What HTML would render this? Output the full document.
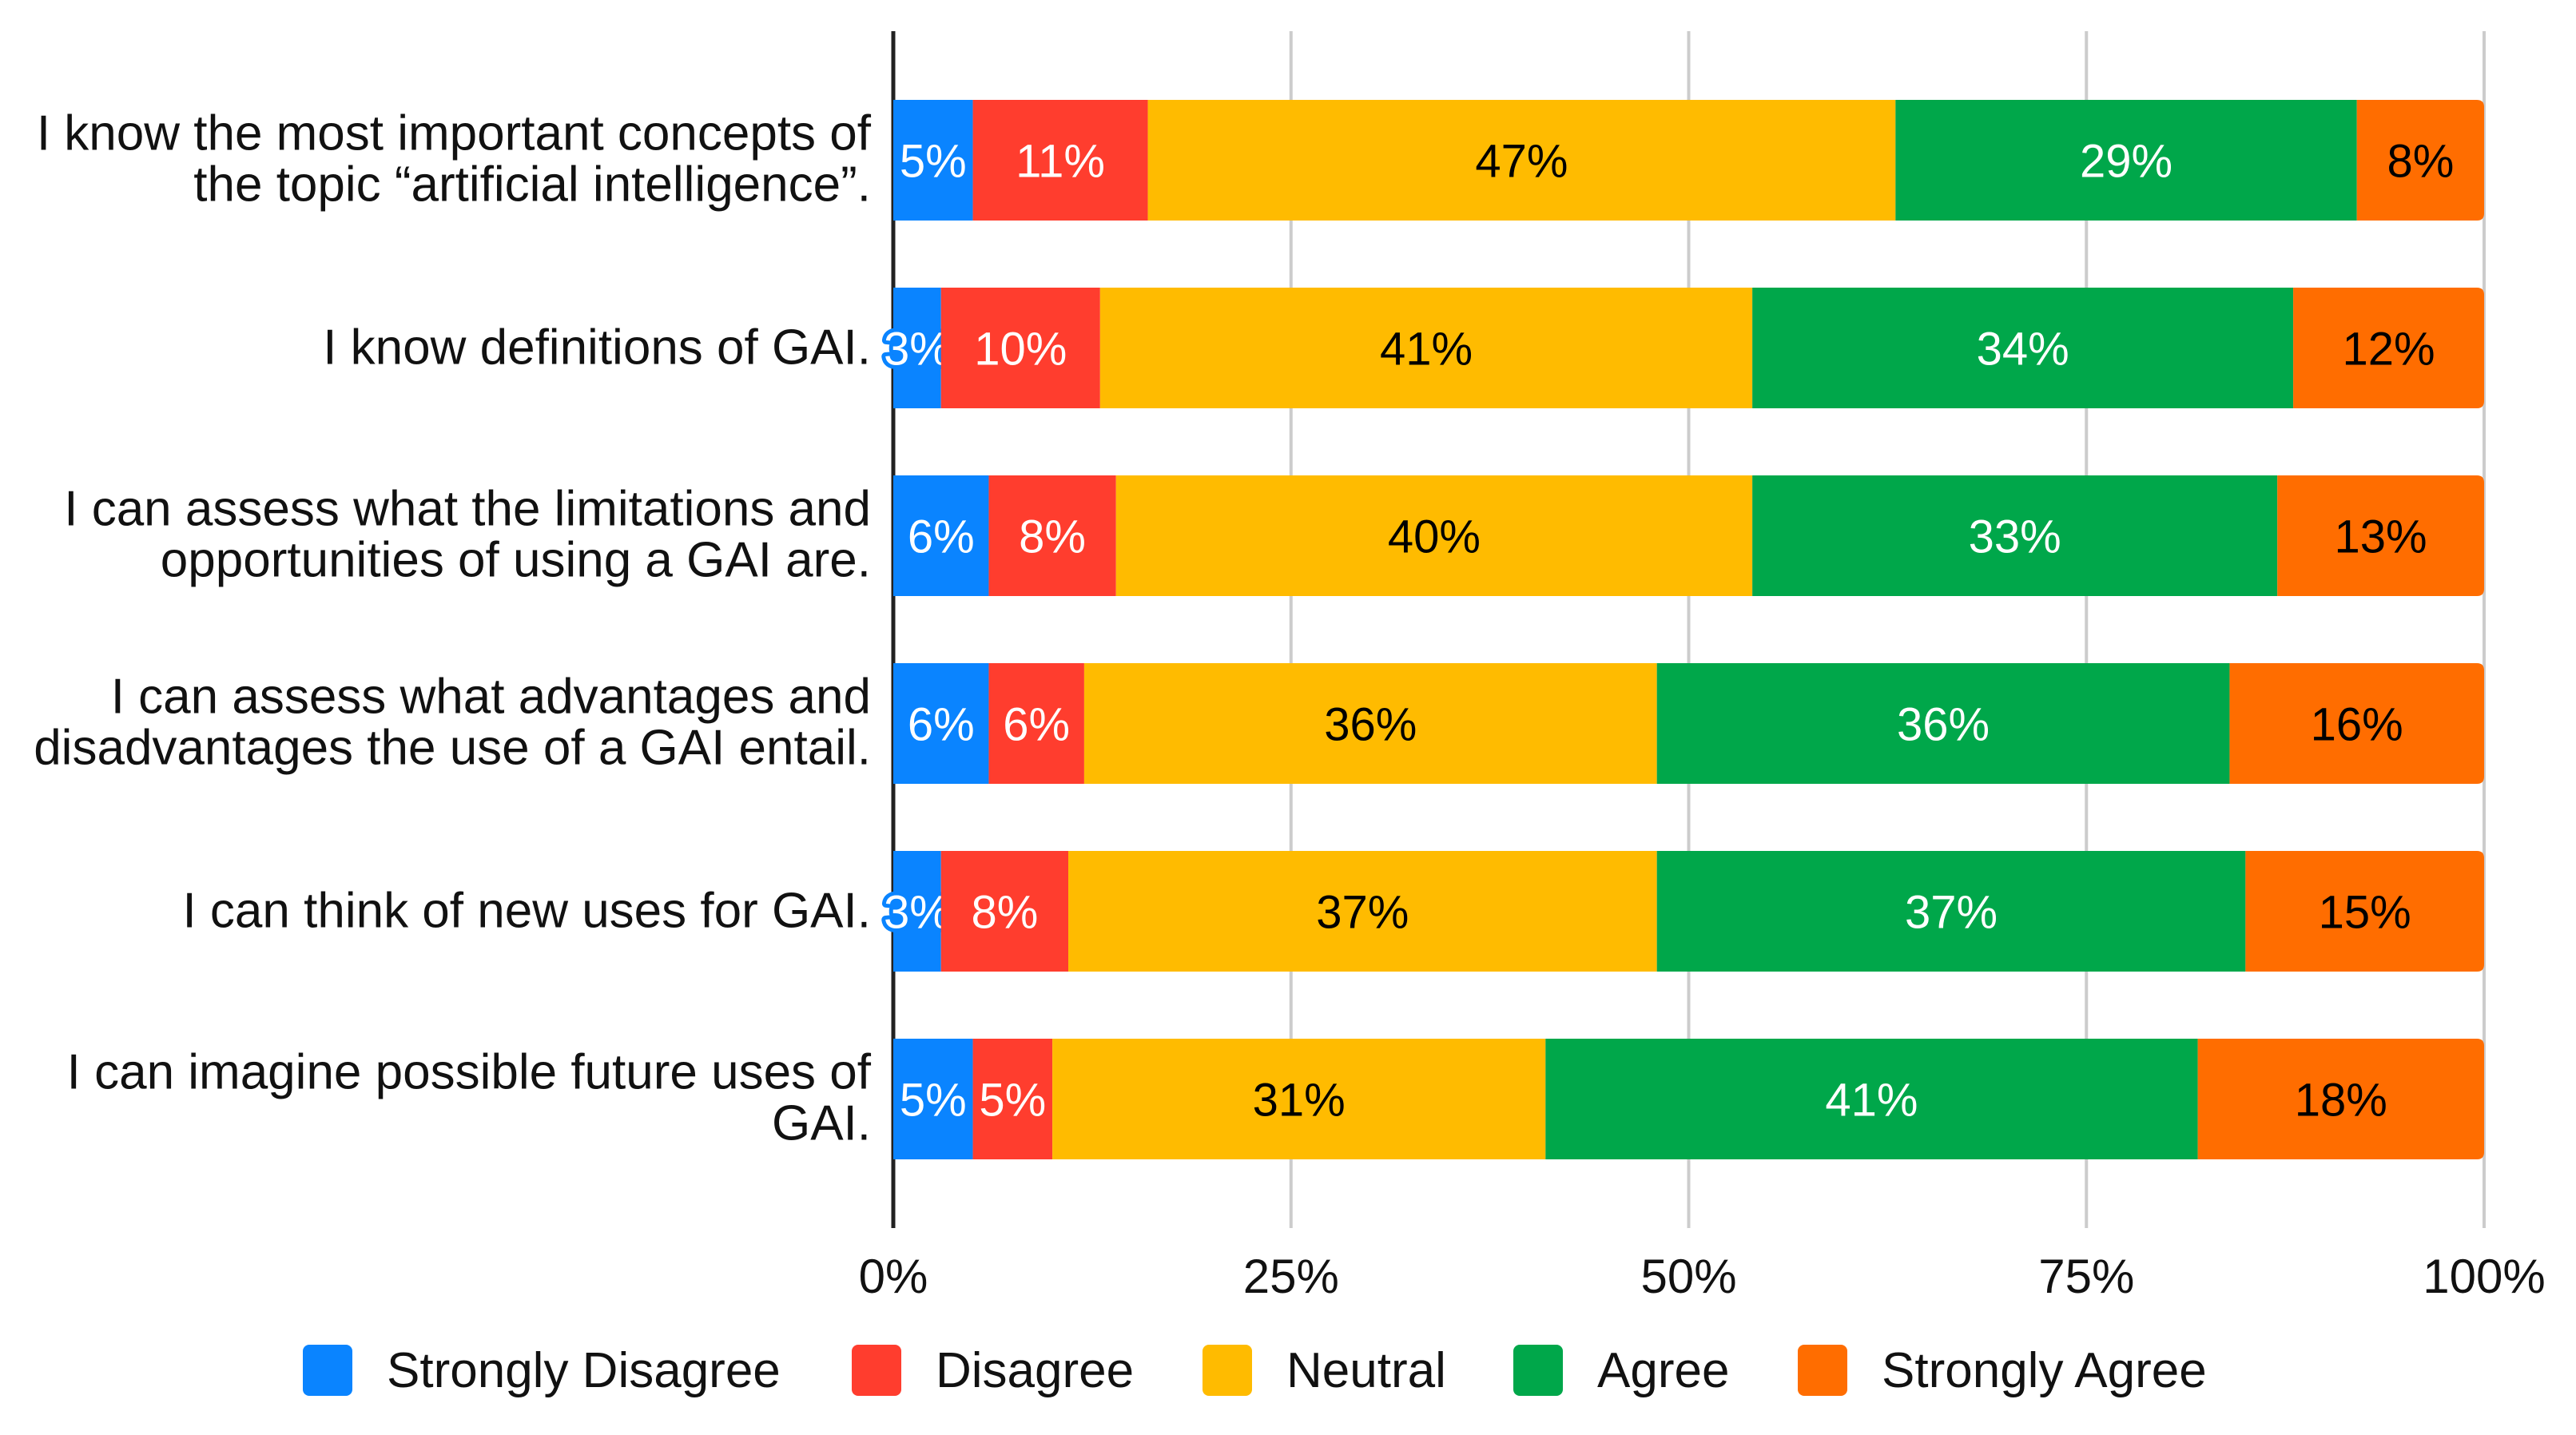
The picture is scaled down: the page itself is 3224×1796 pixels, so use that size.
<!DOCTYPE html>
<html><head><meta charset="utf-8"><style>
html,body{margin:0;padding:0;background:#fff}
svg{display:block}
text{font-family:"Liberation Sans",Arial,sans-serif}
</style></head><body>
<svg id="chart" width="3224" height="1796" viewBox="0 0 3224 1796" xmlns="http://www.w3.org/2000/svg">
<g id="grid"></g>
<g id="bars"></g>
<g id="cats"></g>
<g id="ticks"></g>
<g id="legend"></g>
</svg>
<script>
const categories = [
  ["I know the most important concepts of", "the topic \u201cartificial intelligence\u201d."],
  ["I know definitions of GAI."],
  ["I can assess what the limitations and", "opportunities of using a GAI are."],
  ["I can assess what advantages and", "disadvantages the use of a GAI entail."],
  ["I can think of new uses for GAI."],
  ["I can imagine possible future uses of", "GAI."]
];
const seriesNames = ["Strongly Disagree","Disagree","Neutral","Agree","Strongly Agree"];
const stronglyDisagree = [5,3,6,6,3,5];
const disagree = [11,10,8,6,8,5];
const neutral = [47,41,40,36,37,31];
const agree = [29,34,33,36,37,41];
const stronglyAgree = [8,12,13,16,15,18];
const tickValues = [0,25,50,75,100];
const tickLabels = ["0%","25%","50%","75%","100%"];

const series = [stronglyDisagree, disagree, neutral, agree, stronglyAgree];
const colors = ["#0a84ff","#ff3d2e","#ffbb00","#00a74a","#ff6d00"];
const textColors = ["#fff","#fff","#000","#fff","#000"];
const NS = "http://www.w3.org/2000/svg";
const X0 = 1118, X1 = 3109;
const x = v => X0 + (X1 - X0) * v / 100;
const BAR_TOP = 125, PITCH = 235, BAR_H = 151;
const yTop = i => BAR_TOP + i * PITCH;
function mk(tag, attrs, parent){const e=document.createElementNS(NS,tag);for(const k in attrs)e.setAttribute(k,attrs[k]);parent.appendChild(e);return e;}

const grid = document.getElementById('grid');
tickValues.forEach((t,i)=>{
  if(i===0) return;
  const l = mk('line',{x1:x(t),x2:x(t),y1:39,y2:1537,stroke:'#cccccc','stroke-width':4},grid);
  
  
});

const bars = document.getElementById('bars');
categories.forEach((c,i)=>{
  let acc = 0;
  const total = series.reduce((s,a)=>s+a[i],0);
  series.forEach((arr,s)=>{
    const v = arr[i];
    const xa = x(acc*100/total), xb = x((acc+v)*100/total);
    let r;
    if (s === series.length-1) {
      const rad = 9, y0 = yTop(i), y1 = y0 + BAR_H;
      r = mk('path',{d:`M${xa},${y0} H${xb-rad} Q${xb},${y0} ${xb},${y0+rad} V${y1-rad} Q${xb},${y1} ${xb-rad},${y1} H${xa} Z`,fill:colors[s]},bars);
    } else {
      r = mk('rect',{x:xa,y:yTop(i),width:xb-xa,height:BAR_H,fill:colors[s]},bars);
    }
    
    
    const t = mk('text',{x:(xa+xb)/2,y:yTop(i)+BAR_H/2+21,'text-anchor':'middle','font-size':58,fill:textColors[s]},bars);
    if (v <= 3) { t.setAttribute('stroke',colors[s]); t.setAttribute('stroke-width',10); t.setAttribute('paint-order','stroke'); t.setAttribute('stroke-linejoin','round'); }
    t.textContent = v + '%';
    
    
    acc += v;
  });
});

const ax = mk('line',{x1:X0,x2:X0,y1:39,y2:1537,stroke:'#222','stroke-width':5},grid);



const cats = document.getElementById('cats');
categories.forEach((lines,i)=>{
  const cy = yTop(i) + BAR_H/2;
  lines.forEach((ln,j)=>{
    const off = lines.length===1 ? 0 : (j===0 ? -33 : 31);
    const t = mk('text',{x:1090,y:cy+off+20,'text-anchor':'end','font-size':62,fill:'#111'},cats);
    t.textContent = ln;
    
    
  });
});

const ticks = document.getElementById('ticks');
tickValues.forEach((t,i)=>{
  const e = mk('text',{x:x(t),y:1618,'text-anchor':'middle','font-size':60,fill:'#111'},ticks);
  e.textContent = tickLabels[i];
  
  
});

const legend = document.getElementById('legend');
const legSq = [379,1066,1505,1894,2250];
seriesNames.forEach((n,s)=>{
  const g = mk('g',{},legend);
  
  
  const r = mk('rect',{x:legSq[s],y:1683,width:62,height:64,rx:8,fill:colors[s]},g);
  
  
  const t = mk('text',{x:legSq[s]+105,y:1736,'font-size':62,fill:'#111'},g);
  t.textContent = n;
  
  
});
</script>
</body></html>
